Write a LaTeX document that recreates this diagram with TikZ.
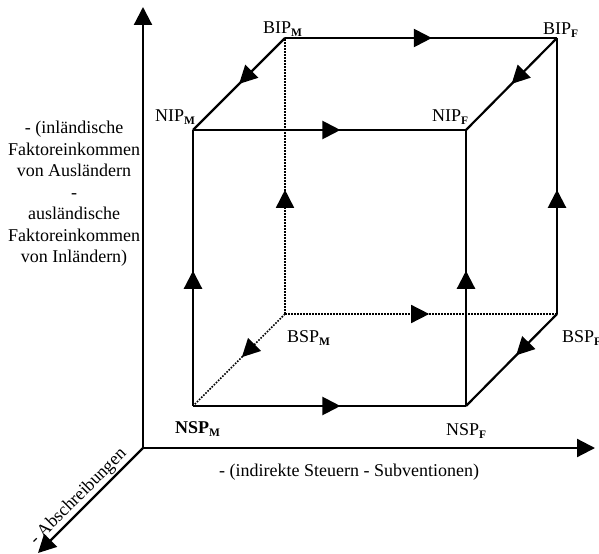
\documentclass[tikz,border=0pt]{standalone}
\usepackage{fontspec}
\setmainfont{Liberation Serif}
\usetikzlibrary{arrows.meta,decorations.markings,calc}
\newcommand{\ssub}[1]{\raisebox{-3bp}{\fontsize{11.5bp}{11.5bp}\selectfont\bfseries #1}}
\tikzset{
  edge/.style={line width=2.2bp},
  dots/.style={line width=1.6bp, dash pattern=on 1.6bp off 1.4bp},
  midarrow/.style={postaction={decorate}, decoration={markings, mark=at position #1 with {\arrow{Triangle[length=18bp,width=18bp]}}}},
  axis/.style={line width=2.2bp, -{Triangle[length=18bp,width=18bp]}},
  txt/.style={inner sep=0pt, font=\fontsize{18bp}{21.5bp}\selectfont},
  lbl/.style={txt, anchor=base west},
}
\begin{document}
\begin{tikzpicture}[x=1bp, y=-1bp]
\useasboundingbox (0,0) rectangle (599,554);
% axes
\coordinate (O) at (143,448);
\coordinate (Ytip) at (143,7);
\coordinate (Xtip) at (595,448);
\coordinate (Ztip) at (38,553);
\draw[axis] (O) -- (Ytip);
\draw[axis] (O) -- (Xtip);
\draw[axis] (O) -- (Ztip);
% cube corners
\coordinate (NIPM) at (193,130);
\coordinate (NIPF) at (466,130);
\coordinate (NSPM) at (193,406);
\coordinate (NSPF) at (466,406);
\coordinate (BIPM) at (285,38);
\coordinate (BIPF) at (557,38);
\coordinate (BSPM) at (285,314);
\coordinate (BSPF) at (557,314);
% dotted hidden edges
\draw[dots, midarrow=0.53] (BSPM) -- (BSPF);
\draw[dots, midarrow=0.45] (BSPM) -- (BIPM);
\draw[dots, midarrow=0.47] (BSPM) -- (NSPM);
% solid edges
\draw[edge, midarrow=0.54] (BIPM) -- (BIPF);
\draw[edge, midarrow=0.54] (NIPM) -- (NIPF);
\draw[edge, midarrow=0.54] (NSPM) -- (NSPF);
\draw[edge, midarrow=0.49] (NSPM) -- (NIPM);
\draw[edge, midarrow=0.49] (NSPF) -- (NIPF);
\draw[edge, midarrow=0.45] (BSPF) -- (BIPF);
\draw[edge, midarrow=0.5] (BIPM) -- (NIPM);
\draw[edge, midarrow=0.5] (BIPF) -- (NIPF);
\draw[edge, midarrow=0.45] (BSPF) -- (NSPF);
% corner labels
\node[lbl] (lBIPM) at (263,34) {BIP\ssub{M}};
\node[lbl] (lNIPM) at (155,122) {NIP\ssub{M}};
\node[lbl] (lNIPF) at (432,122) {NIP\ssub{F}};
\node[lbl] (lBIPF) at (543,35) {BIP\ssub{F}};
\node[lbl] (lBSPM) at (287,342) {BSP\ssub{M}};
\node[lbl] (lBSPF) at (562,342) {BSP\ssub{F}};
\node[lbl] (lNSPM) at (175,433) {\bfseries NSP\ssub{M}};
\node[lbl] (lNSPF) at (446,435) {NSP\ssub{F}};
% axis labels
\node[txt] (xl) at (349,472) {- (indirekte Steuern - Subventionen)};
\node[txt, align=center] (yl) at (74,194) {- (inländische\\Faktoreinkommen\\von Ausländern\\-\\ausländische\\Faktoreinkommen\\von Inländern)};
\node[txt, rotate=45, anchor=south, inner sep=2.5bp] (zl) at ($(O)!0.54!(Ztip)$) {- Abschreibungen};
\end{tikzpicture}
\end{document}
